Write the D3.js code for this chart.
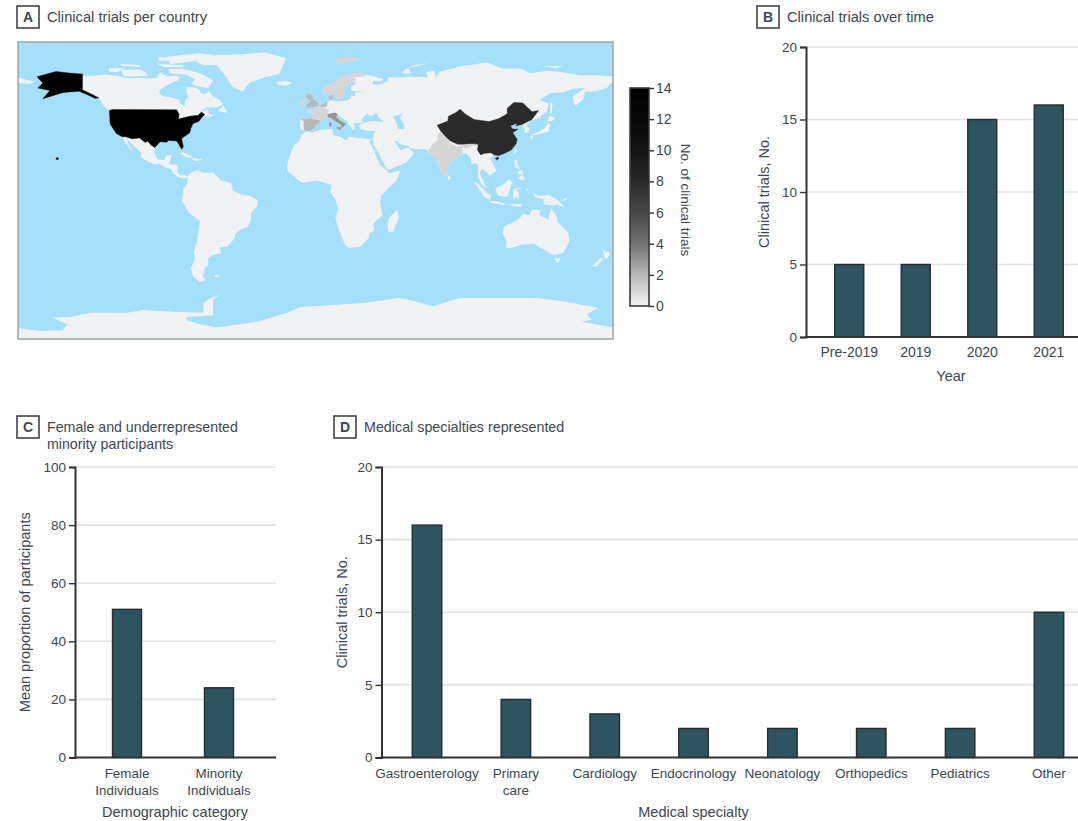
<!DOCTYPE html>
<html>
<head>
<meta charset="utf-8">
<script src="https://cdn.jsdelivr.net/npm/d3@7"></script>
<style>
  html, body { margin: 0; padding: 0; background: #fff; }
  text { font-family: "Liberation Sans", sans-serif; fill: #3c4753; }
</style>
</head>
<body>
<svg id="chart" width="1078" height="821"></svg>
<script>
// values
const yearLabels = ['Pre-2019', '2019', '2020', '2021'];
const yearTrials = [5, 5, 15, 16];

const demographicLabels = [['Female', 'Individuals'], ['Minority', 'Individuals']];
const demographicShare = [51, 24];

const specialtyLabels = [['Gastroenterology'], ['Primary', 'care'], ['Cardiology'], ['Endocrinology'], ['Neonatology'], ['Orthopedics'], ['Pediatrics'], ['Other']];
const specialtyTrials = [16, 4, 3, 2, 2, 2, 2, 10];

const countryNames = ['United States', 'China', 'India', 'Italy', 'Spain', 'France', 'United Kingdom', 'Ireland', 'Netherlands', 'Denmark', 'Norway', 'Sweden'];
const countryTrials = [14, 8, 1, 3, 2, 1, 2, 1, 2, 2, 1, 1];

const legendStops = [0, 1, 2, 3, 4, 6, 8, 10, 12, 14];
const legendGreys = ['#f2f2f2', '#d6d6d6', '#b8b8b8', '#959595', '#727272', '#484848', '#2a2a2a', '#141414', '#080808', '#000000'];

// coastlines, [lon, lat]
const landRings = [
  // north and central america
  [[-141,69.6],[-135,69.3],[-128,70.2],[-120,69.5],[-115,68],[-108,68],[-100,67.8],[-96,68.2],[-94,71.5],[-90,69],[-85,69.5],[-81.5,68.5],[-84,66.2],[-87,65],[-90,63.7],[-94,61],[-94.5,58.8],[-92.5,57],[-88,56.5],[-85,55.3],[-82.3,55],[-82,53],[-79.5,51.3],[-79,52],[-79,54.5],[-76.8,56.5],[-78,59],[-78,62.4],[-73.5,62.4],[-70,61],[-69.5,58.8],[-66,58.5],[-64.5,60.3],[-61.5,56.5],[-58,54.8],[-55.8,52.5],[-59,50.3],[-66,50.2],[-70,47.5],[-65,49],[-64.5,46.3],[-61,45.5],[-66,43.7],[-64,45.5],[-67,45],[-70,43.7],[-71,41.5],[-74,40.5],[-75.5,37.5],[-76,35],[-81,31.5],[-80,26.5],[-81,25],[-82.7,28],[-84,30],[-89,30.2],[-90,29.2],[-94,29.5],[-97.3,27.5],[-97.5,22.5],[-95.5,18.8],[-91.5,18.5],[-90.5,21],[-87,21.5],[-88.2,17],[-88.5,15.8],[-84,15.8],[-83.3,14.5],[-83.7,11],[-81.5,9],[-79.5,9.5],[-77.3,8.6],[-78,7.5],[-80,7.3],[-83,8.2],[-85.8,10],[-87.5,13],[-91.5,14],[-94.5,16.2],[-97,15.8],[-101.5,17.5],[-105.5,20],[-105.5,22.8],[-109,26],[-112.5,29.5],[-114.7,31.7],[-113,28],[-110,23.5],[-112,25],[-115,29],[-117,32.5],[-120.5,34.5],[-124.3,40.3],[-124.7,48.4],[-128,51],[-130.3,54.7],[-133,57],[-137,58.5],[-141,60]],
  // canadian arctic
  [[-80,73.7],[-72,71.5],[-68,70],[-62,66.5],[-65,62],[-70,62.8],[-75,64.5],[-73,67.5],[-78,70],[-88,71],[-89,73.5]],
  [[-117,73],[-105,73],[-101,69.5],[-115,69],[-117,70.5]],
  [[-125,74],[-116,74],[-120,71.5],[-125,72]],
  [[-90,81],[-70,83],[-61,82],[-75,78],[-88,76.5]],
  [[-96,76.5],[-80,75.8],[-80,74.5],[-92,74.7]],
  [[-118,76.5],[-106,76],[-106,74.8],[-117,75.2]],
  [[-95,81],[-87,80],[-87,78.5],[-95,78.5]],
  [[-59,48],[-56,51.5],[-53,47]],
  // greenland, iceland
  [[-73,78.2],[-68,76],[-60,76],[-55,70],[-53,67],[-50,62.5],[-44,60],[-40,65],[-32,68],[-22,70.5],[-20,75],[-18,80],[-30,83.5],[-45,82.5],[-60,82],[-68,80.5]],
  [[-24,65.5],[-18,66.3],[-14,65],[-18,63.4],[-22.5,64]],
  // caribbean
  [[-85,22],[-80,23.2],[-74.2,20.2],[-77.7,19.9],[-82,22.5]],
  [[-74.4,19.8],[-68.4,18.7],[-71.7,17.8],[-74.4,18.4]],
  // south america
  [[-77.3,8.6],[-75.5,10.7],[-71.5,12.3],[-68,10.7],[-62,10.7],[-57,6],[-51,4.5],[-50,0],[-44.5,-2.5],[-39,-3.5],[-35,-6],[-35,-9],[-39,-13.5],[-39,-18],[-41,-22],[-45,-23.5],[-48.5,-26],[-49,-29],[-53.5,-34],[-58,-34.5],[-57,-38],[-62,-39],[-65,-41],[-65,-45],[-67,-47],[-68,-52],[-66.5,-54.5],[-70,-55.3],[-74,-52],[-75.5,-47],[-73,-42],[-73.5,-37],[-71.5,-30],[-70,-18.3],[-76,-14],[-81,-6],[-80,-2.5],[-80,1],[-77.5,4],[-77.5,7]],
  [[-61,-51.5],[-58,-51.3],[-58.5,-52.3],[-61,-52.2]],
  // africa
  [[-5.9,35.8],[-2,35.1],[3,36.8],[10,37.3],[11,33.5],[15,32.3],[19,30.3],[20,32.7],[25,31.7],[32,31.2],[34.2,31.3],[32.6,29.8],[35.5,24],[37.3,19],[39.5,15],[43.2,12],[44,10.5],[51.2,11.9],[49,6],[44,1],[40,-3],[39,-7],[40.5,-15],[35,-20],[35.5,-24],[32.8,-26],[32,-29],[27,-34],[20,-34.8],[18,-33],[15,-26],[12,-17],[13.8,-11],[12,-5.5],[9,-1],[9.7,3.5],[5.5,4.5],[1,6],[-4.5,5.2],[-8,4.5],[-13,8.5],[-17,12],[-17.3,15],[-16,20],[-13,27.5],[-9.7,30],[-9,33]],
  [[49.3,-12],[50.5,-16],[47,-25],[44,-25],[43.5,-21],[44.5,-16.5]],
  // eurasia
  [[-9,37],[-9.3,39],[-9,43.2],[-2,43.4],[-1.2,46],[-4.7,48.3],[-1.5,48.7],[1.5,50.5],[4,52],[7,53.5],[8.5,54],[8.2,57],[10.5,57.5],[10,54.5],[14,54],[19,54.4],[21,55.5],[21.5,57.5],[24,57.2],[24,59.3],[30,60],[23,60],[21.5,61],[21.5,63],[25,65.2],[22,65.8],[17.5,62.5],[17,60.5],[18.5,59.5],[16.5,56.5],[14,55.5],[12.7,56],[11,59],[8,58],[5,59],[5,62],[11,65],[15,68.5],[20,70],[26,71],[31,70],[41,67.5],[40,66],[35,66.5],[34.5,64.5],[38,64],[40.5,64.7],[44,66.5],[44,68.5],[54,68.5],[60,68.8],[68,68.5],[67,71.5],[72,72.5],[73,68],[75,72],[82,73.5],[87,75],[104,77.5],[113,73.8],[125,73.5],[130,71],[140,72.5],[150,71.5],[160,69.7],[170,69.8],[180,69],[180,65],[178,64.5],[177,62.5],[170,60],[163,59.8],[162,55],[156.7,51],[155.7,57],[163,62],[156,61.5],[150,59.5],[142,59],[135.5,54.7],[141,53],[140,48],[135,43.5],[131,42.7],[127.5,39.8],[129.5,37],[128.8,35.2],[126.3,34.7],[126.7,37.7],[125,39.7],[121.2,39],[122,40.7],[118,39.2],[119,37.3],[122.5,37],[119.3,35],[122,31],[121.5,28.5],[118.5,24.5],[114,22.3],[110,21],[108,21.6],[105.8,19],[109,13],[109,11.5],[105,8.7],[105,10],[100.5,13.4],[99.5,10],[103.5,1.5],[101,3],[98.3,8],[98.6,14],[97.5,16.5],[94.5,16],[94,19.5],[91,22.5],[87,21.5],[80.3,15.5],[80,10.5],[77.5,8],[73,19],[72.5,21],[70,21],[67,25],[61.5,25],[57,25.7],[56.3,27],[51,28],[49,30.2],[48,29.7],[50.2,26],[51.5,24.3],[56,26],[59.7,22.5],[55,17],[45,12.8],[43,12.8],[39,21],[35,28],[34.5,31.3],[36,36],[30.5,36.3],[27,37],[26.3,39.5],[29,41],[35,42],[41.5,41.5],[38,44.5],[37,47],[34,45],[31,46.5],[28,43],[29,41.2],[26.2,40.8],[23,40.5],[24,38],[22.7,36.5],[19.5,41],[19,42],[13.5,45.5],[12.3,44.5],[16,41.5],[18.5,40.2],[16,38],[15.5,40],[10.5,43],[8.5,44.4],[3.2,43.3],[3,41.8],[0,39.7],[-0.5,38],[-2,36.8],[-5.5,36]],
  // chukotka across the date line, russian arctic
  [[-180,68.5],[-175,67],[-170,66],[-173,64.5],[-180,65]],
  [[52,71],[58,71],[56,74],[68,77],[60,76],[54,73]],
  [[138,75.5],[150,75.2],[145,74]],
  // east asia
  [[130.8,34],[135,35.6],[139,38],[141,41.3],[142,39.5],[140.8,35.7],[136.8,34.5],[132,33.5]],
  [[130,33.5],[131.8,33],[131,31],[130,31.5]],
  [[140.3,42],[141.8,45.4],[145.3,43.4],[143,42]],
  [[142,54],[143.3,52],[143,47],[142,46],[142,50]],
  [[121,25],[122,25],[120.8,22],[120,23.2]],
  [[80,9.5],[82,7.5],[80.5,6]],
  // southeast asia
  [[120.5,18.5],[122.3,18.3],[122,16],[124,13],[121,13.8]],
  [[122,7],[125.5,9.7],[126.5,7.3],[125.5,5.8],[124,7]],
  [[122.5,11.5],[125,12.5],[125.5,10],[123,9.5]],
  [[109,1.5],[113,3.2],[117,7],[119,5.2],[117.7,1],[116,-4],[110.5,-3],[109,0]],
  [[95.3,5.6],[98,4.2],[103.5,-1],[106,-3],[105.8,-5.8],[102,-4],[98.5,1.5]],
  [[105.3,-6.5],[108.5,-6.5],[114.5,-7.7],[114.5,-8.7],[106.5,-7.5]],
  [[119.5,0],[120,1],[125,1.5],[121,0.5],[123,-1],[123,-5.3],[121.5,-3.5],[120,-5.5]],
  [[116,-8.5],[125,-8],[124,-10],[119,-9]],
  [[131,-0.8],[135,-3.3],[141,-2.6],[147,-6],[150.8,-10.5],[146,-8.5],[143,-9],[138,-8.3],[138,-5.5],[133,-4]],
  [[127.5,1.8],[128.7,0.5],[127.8,-0.8]],
  [[149,-6],[152,-4.2],[152,-5.5]],
  // oceania
  [[114,-22],[122,-18],[126,-14],[129.5,-15],[131,-11.5],[136,-12],[135.5,-15],[140.8,-17.5],[142.5,-10.8],[145.5,-15],[146.5,-19],[153,-25.5],[153.5,-31],[150,-37.5],[146,-39],[143,-38.7],[138,-35.5],[135.5,-34.5],[132,-32],[124,-33],[118,-35],[115,-34.3],[115.7,-31],[113.3,-26]],
  [[144.7,-40.8],[148.3,-41],[147,-43.5],[146,-43.5]],
  [[172.7,-34.5],[175.5,-37],[178.5,-37.7],[176.5,-41],[174.8,-41.3],[174.7,-38]],
  [[172.7,-40.6],[174.2,-41.7],[171,-44.8],[170.5,-46],[166.5,-46],[170.5,-43]],
  // antarctica
  [[-180,-83.2],[-167,-85],[-153,-84.5],[-150,-81],[-159,-77],[-148.5,-76.5],[-136,-74],[-114,-74],[-104.5,-72.3],[-83,-73.5],[-68,-74],[-68,-68],[-62,-64.5],[-58,-63.2],[-62,-66],[-62,-75.5],[-78,-76.5],[-78,-78.5],[-68,-81.4],[-59.6,-82.7],[-35.5,-79.5],[-17,-74],[-9,-70.5],[9,-69.5],[28.7,-68],[51,-65],[60,-67],[71,-70],[87.4,-65],[134,-65],[149.7,-67],[171,-71],[164,-75],[167,-78],[161,-79.5],[180,-82.7],[180,-90],[-180,-90]]
];

const waterRings = [
  // caspian
  [[47,45],[53,46.5],[51,44],[53.5,40],[53.5,37],[50,37.3],[49,41]]
];

const countryRings = {
  'United States': [
    [[-124.7,48.4],[-123,49],[-84,48.8],[-82.5,46],[-83,43.2],[-76,45],[-71,45.5],[-69,47.5],[-67,46],[-68.5,44.5],[-70.7,41.7],[-74,40.5],[-75.5,37.5],[-76,35],[-81,31.5],[-80,26.5],[-81,25],[-82.7,28],[-84,30],[-89,30.2],[-90,29.2],[-94,29.5],[-97.3,26],[-99.5,27.5],[-101.5,29.8],[-103,29],[-106.5,31.8],[-111,31.3],[-114.8,32.5],[-117,32.5],[-120.5,34.5],[-124.3,40.3]],
    [[-141,70.5],[-141,61],[-137,59],[-131,56],[-133.5,55.8],[-138,58],[-143,60],[-152.6,59.3],[-165,55.5],[-160.7,60.5],[-168,62],[-165,65],[-168.5,68.8],[-157,72],[-148,71]],
    [[-157,19.8],[-155.6,19.8],[-155.6,18.8],[-157,18.8]]
  ],
  'China': [
    [[73.6,39.5],[80,42],[80.5,45],[85,47.2],[87.5,49.2],[91,46],[96,43],[105,41.7],[111,43.5],[116,46.5],[116,49.7],[120,53.3],[125.5,53],[131,47.7],[135,48.4],[131,43],[125,40],[121.2,39],[122,40.7],[118,39.2],[119,37.3],[122.5,37],[119.3,35],[122,31],[121.5,28.5],[118.5,24.5],[114,22.3],[110.5,21],[108,21.6],[106,22.8],[102,22.4],[100,21.5],[98,24.5],[98.5,28],[92,28],[86,28],[81,30.3],[78.5,32.5],[76,35.5]],
    [[108.8,19.5],[110.5,20.2],[111,19.5],[109.7,18.3]]
  ],
  'India': [
    [[68,23.7],[70,21],[72.5,21],[73,19],[77.5,8],[80,10.5],[80.3,15.5],[87,21.5],[89,22],[88.5,26],[92,25.5],[97,28.2],[92,28],[86,26.5],[81,28.5],[81,30.3],[78.5,32.5],[76,35.5],[74,34],[74,30.5],[70,27]]
  ],
  'Italy': [
    [[7,46],[7.5,43.8],[8.5,44.4],[10.5,43],[15.5,40],[16,38],[18.5,40.2],[16,41.5],[12.3,44.5],[13.5,45.8],[12,47],[10,46.8]],
    [[8.3,41],[9.7,41],[9.5,39],[8.5,39]],
    [[12.5,38],[15.5,38.2],[15,36.7]]
  ],
  'Spain': [
    [[-9,43.2],[-2,43.4],[3,42.5],[3,41.8],[0,39.7],[-0.5,38],[-2,36.8],[-5.5,36],[-7,37],[-7,42]]
  ],
  'France': [
    [[-1.8,43.4],[-1.2,46],[-4.7,48.3],[-1.5,48.7],[1.5,50.5],[2.5,51],[5.5,49.7],[8.2,49],[7.5,47.5],[6.8,46],[7.5,43.8],[3.2,43.3],[3,42.5]]
  ],
  'United Kingdom': [
    [[-5.5,50],[1.5,51.2],[1.5,53],[-1.5,55],[-2,57.5],[-4,58.6],[-6,57],[-3,54],[-5,52]]
  ],
  'Ireland': [
    [[-10,52],[-6,52.2],[-6,55],[-8.5,55]]
  ],
  'Netherlands': [
    [[2.5,51],[4,52],[7,53.5],[7,51],[5.5,50.5]]
  ],
  'Denmark': [
    [[8.2,57],[10.5,57.5],[10,54.9],[8.5,54.9]]
  ],
  'Norway': [
    [[11,59],[8,58],[5,59],[5,62],[11,65],[15,68.5],[20,70],[26,71],[31,70],[29,69],[20,68.5],[15,65],[12,62]],
    [[11,79],[16,80.3],[27,80],[20,77.5],[14,77]]
  ],
  'Sweden': [
    [[11,59],[12,62],[15,65],[20,68.5],[24,68],[24,66],[22,65.8],[17.5,62.5],[17,60.5],[18.5,59.5],[16.5,56.5],[14,55.5],[12.7,56]]
  ]
};

const svg = d3.select('#chart');
const textColor = '#3c4753';
const axisColor = '#333';
const gridColor = '#e2e2e2';
const barFill = '#2e5361';
const barStroke = '#262d30';

const drawPanelTag = (letter, x, y) => {
  svg.append('rect')
    .attr('x', x).attr('y', y)
    .attr('width', 22).attr('height', 22)
    .attr('fill', '#fff')
    .attr('stroke', '#444')
    .attr('stroke-width', 1.6);
  svg.append('text')
    .attr('x', x + 11).attr('y', y + 16)
    .attr('text-anchor', 'middle')
    .style('font-size', '14px')
    .style('font-weight', 'bold')
    .text(letter);
};

const drawTitle = (lines, x, y, size) => {
  lines.forEach((line, i) => {
    svg.append('text')
      .attr('x', x).attr('y', y + i * 17)
      .style('font-size', `${size}px`)
      .text(line);
  });
};

const drawBarPanel = ({
  labels, values, yMax, yStep, left, right, top, bottom,
  bandStart, bandEnd, barWidth, labelSize, xTitle, xTitleX, xTitleY, yTitle, yTitleX
}) => {
  const x = d3.scaleBand()
    .domain(d3.range(values.length))
    .range([bandStart, bandEnd]);
  const y = d3.scaleLinear().domain([0, yMax]).range([bottom, top]);
  const ticks = d3.range(0, yMax + yStep, yStep);

  // gridlines sit under the bars
  svg.append('g').selectAll('line')
    .data(ticks.slice(1))
    .join('line')
    .attr('x1', left).attr('x2', right)
    .attr('y1', d => y(d)).attr('y2', d => y(d))
    .attr('stroke', gridColor)
    .attr('stroke-width', 1.6);

  svg.append('g').selectAll('rect')
    .data(values)
    .join('rect')
    .attr('x', (d, i) => x(i) + (x.bandwidth() - barWidth) / 2)
    .attr('y', d => y(d))
    .attr('width', barWidth)
    .attr('height', d => bottom - y(d))
    .attr('fill', barFill)
    .attr('stroke', barStroke)
    .attr('stroke-width', 1.4);

  const yAxis = d3.axisLeft(y).tickValues(ticks).tickSize(6).tickPadding(3);
  const yg = svg.append('g')
    .attr('transform', `translate(${left},0)`)
    .call(yAxis);
  yg.select('.domain').attr('stroke', axisColor).attr('stroke-width', 2);
  yg.selectAll('.tick line').attr('stroke', axisColor).attr('stroke-width', 1.4);
  yg.selectAll('.tick text')
    .style('font-size', '13.5px')
    .style('font-family', '"Liberation Sans", sans-serif')
    .attr('fill', textColor);

  svg.append('line')
    .attr('x1', left - 1).attr('x2', right)
    .attr('y1', bottom).attr('y2', bottom)
    .attr('stroke', axisColor)
    .attr('stroke-width', 2);

  const xAxis = d3.axisBottom(x).tickSize(0).tickPadding(9).tickFormat('');
  const xg = svg.append('g')
    .attr('transform', `translate(0,${bottom})`)
    .call(xAxis);
  xg.select('.domain').remove();
  xg.selectAll('.tick').each(function (d) {
    const tick = d3.select(this);
    tick.select('text').remove();
    labels[d].forEach((line, i) => {
      tick.append('text')
        .attr('y', 20 + i * 17)
        .attr('text-anchor', 'middle')
        .style('font-size', `${labelSize}px`)
        .text(line);
    });
  });

  svg.append('text')
    .attr('x', xTitleX).attr('y', xTitleY)
    .attr('text-anchor', 'middle')
    .style('font-size', '14.5px')
    .text(xTitle);

  svg.append('text')
    .attr('transform', `translate(${yTitleX},${(top + bottom) / 2}) rotate(-90)`)
    .attr('text-anchor', 'middle')
    .style('font-size', '14.5px')
    .text(yTitle);
};

// panel A: equirectangular world, scale and centre taken from the figure frame
const mapLeft = 18, mapTop = 42, mapWidth = 595, mapHeight = 297;
const projection = d3.geoEquirectangular()
  .scale(mapWidth / (2 * Math.PI))
  .translate([mapLeft + mapWidth / 2, mapTop + mapHeight / 2])
  .precision(0);
const ringPath = d3.line()
  .x(d => projection(d)[0])
  .y(d => projection(d)[1]);
const closedPath = ring => ringPath(ring) + 'Z';

const color = d3.scaleLinear().domain(legendStops).range(legendGreys);

const defs = svg.append('defs');
defs.append('clipPath').attr('id', 'map-clip')
  .append('rect')
  .attr('x', mapLeft).attr('y', mapTop)
  .attr('width', mapWidth).attr('height', mapHeight);
// the printed map is soft at the edges
defs.append('filter').attr('id', 'map-soft')
  .append('feGaussianBlur')
  .attr('stdDeviation', 0.45);

const map = svg.append('g').attr('clip-path', 'url(#map-clip)');

map.append('rect')
  .attr('x', mapLeft).attr('y', mapTop)
  .attr('width', mapWidth).attr('height', mapHeight)
  .attr('fill', '#a6dffa');

const mapShapes = map.append('g').attr('filter', 'url(#map-soft)');

mapShapes.append('g').selectAll('path')
  .data(landRings)
  .join('path')
  .attr('d', closedPath)
  .attr('fill', '#f1f2f4');

mapShapes.append('g').selectAll('path')
  .data(waterRings)
  .join('path')
  .attr('d', closedPath)
  .attr('fill', '#a6dffa');

countryNames.forEach((name, i) => {
  mapShapes.append('g').selectAll('path')
    .data(countryRings[name])
    .join('path')
    .attr('d', closedPath)
    .attr('fill', color(countryTrials[i]))
    .attr('stroke', color(countryTrials[i]))
    .attr('stroke-width', 0.4);
});

svg.append('rect')
  .attr('x', mapLeft).attr('y', mapTop)
  .attr('width', mapWidth).attr('height', mapHeight)
  .attr('fill', 'none')
  .attr('stroke', '#a3a8ab')
  .attr('stroke-width', 1.6);

// legend
const legendX = 630, legendW = 19, legendTop = 88, legendBottom = 306;
const legendY = d3.scaleLinear().domain([0, 14]).range([legendBottom, legendTop]);

const gradient = defs.append('linearGradient')
  .attr('id', 'legend-grad')
  .attr('x1', 0).attr('x2', 0).attr('y1', 1).attr('y2', 0);
gradient.selectAll('stop')
  .data(legendStops)
  .join('stop')
  .attr('offset', d => d / 14)
  .attr('stop-color', d => color(d));

svg.append('rect')
  .attr('x', legendX).attr('y', legendTop)
  .attr('width', legendW).attr('height', legendBottom - legendTop)
  .attr('fill', 'url(#legend-grad)')
  .attr('stroke', '#3a3a3a')
  .attr('stroke-width', 1.6);

const legendAxis = svg.append('g')
  .attr('transform', `translate(${legendX + legendW},0)`)
  .call(d3.axisRight(legendY).tickValues(d3.range(0, 15, 2)).tickSize(5).tickPadding(2));
legendAxis.select('.domain').remove();
legendAxis.selectAll('.tick line').attr('stroke', axisColor).attr('stroke-width', 1.4);
legendAxis.selectAll('.tick text')
  .style('font-size', '14px')
  .style('font-family', '"Liberation Sans", sans-serif');

svg.append('text')
  .attr('transform', 'translate(681,200) rotate(90)')
  .attr('text-anchor', 'middle')
  .style('font-size', '13.5px')
  .text('No. of clinical trials');

drawPanelTag('A', 17, 6);
drawTitle(['Clinical trials per country'], 47, 22, 14.7);

drawPanelTag('B', 757, 6);
drawTitle(['Clinical trials over time'], 787, 22, 14.7);
drawBarPanel({
  labels: yearLabels.map(d => [d]),
  values: yearTrials,
  yMax: 20, yStep: 5,
  left: 806, right: 1078, top: 47, bottom: 337,
  bandStart: 816, bandEnd: 1082, barWidth: 29, labelSize: 14,
  xTitle: 'Year', xTitleX: 951, xTitleY: 381,
  yTitle: 'Clinical trials, No.', yTitleX: 769
});

drawPanelTag('C', 17, 416);
drawTitle(['Female and underrepresented', 'minority participants'], 47, 432, 14.2);
drawBarPanel({
  labels: demographicLabels,
  values: demographicShare,
  yMax: 100, yStep: 20,
  left: 75, right: 276, top: 467, bottom: 757.5,
  bandStart: 81, bandEnd: 265, barWidth: 29, labelSize: 13.4,
  xTitle: 'Demographic category', xTitleX: 175, xTitleY: 817,
  yTitle: 'Mean proportion of participants', yTitleX: 30
});

drawPanelTag('D', 334, 416);
drawTitle(['Medical specialties represented'], 364, 432, 14.3);
drawBarPanel({
  labels: specialtyLabels,
  values: specialtyTrials,
  yMax: 20, yStep: 5,
  left: 381.5, right: 1078, top: 467, bottom: 757.5,
  bandStart: 382.6, bandEnd: 1093.4, barWidth: 29.5, labelSize: 13.5,
  xTitle: 'Medical specialty', xTitleX: 693.5, xTitleY: 817,
  yTitle: 'Clinical trials, No.', yTitleX: 347
});
</script>
</body>
</html>
